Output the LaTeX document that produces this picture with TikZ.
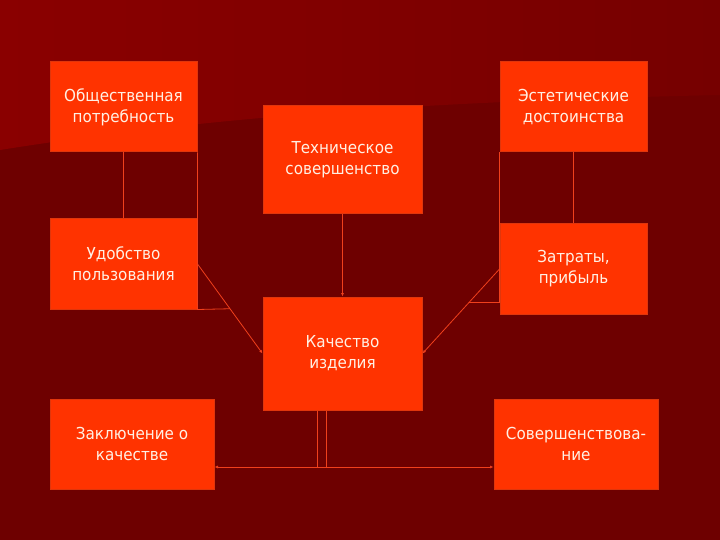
\documentclass[tikz,border=0pt]{standalone}
\usepackage{fontspec}
\setmainfont{DejaVu Sans}[FakeStretch=0.92]
\usetikzlibrary{arrows.meta,calc}
\definecolor{bgtopl}{HTML}{8A0000}
\definecolor{bgtopr}{HTML}{760000}
\definecolor{bglow}{HTML}{6E0000}
\definecolor{boxfill}{HTML}{FF3300}
\definecolor{boxline}{HTML}{E0360C}
\definecolor{conn}{HTML}{F0401C}
\definecolor{txt}{HTML}{FFF0E4}
\tikzset{
  box/.style={rectangle, fill=boxfill, draw=boxline, line width=1pt, text=txt,
    align=center, inner sep=2pt, font=\fontsize{16.5}{21}\selectfont},
  link/.style={draw=conn, line width=0.8pt},
  tip/.style={-{Latex[length=3.5pt,width=3pt]}}
}
\begin{document}
\begin{tikzpicture}[x=1pt,y=-1pt]
\useasboundingbox (0,0) rectangle (720,540);
\fill[bglow] (0,0) rectangle (720,540);
\shade[left color=bgtopl, right color=bgtopr] (0,0) -- (720,0) -- (720,95) .. controls (500,100) and (250,110) .. (0,150) -- cycle;
\node[box, minimum width=147, minimum height=90] (op) at (123.5,107) {Общественная\\потребность};
\node[box, minimum width=147, minimum height=90] (ed) at (573.5,107) {Эстетические\\достоинства};
\node[box, minimum width=159, minimum height=108] (ts) at (342.5,160) {Техническое\\совершенство};
\node[box, minimum width=147, minimum height=90] (up) at (123.5,264) {Удобство\\пользования};
\node[box, minimum width=147, minimum height=90] (zp) at (573.5,269) {Затраты,\\прибыль};
\node[box, minimum width=159, minimum height=113] (ki) at (342.5,353.5) {Качество\\изделия};
\node[box, minimum width=164, minimum height=90] (zk) at (132,444) {Заключение о\\качестве};
\node[box, minimum width=164, minimum height=90] (sv) at (576,444) {Совершенствова-\\ние};
\coordinate (lj) at ($(up.east)!0.5!(ki.west)$);
\coordinate (rj) at ($(zp.west)!0.4!(ki.east)$);
\coordinate (hb) at (0,467);
\coordinate (v1) at (317,0);
\coordinate (v2) at (326,0);
\draw[link] (op.south) -- (up.north);
\draw[link] (op.south east) -- (up.south east) -- (lj);
\draw[link, tip] (up.east) -- (ki.west);
\draw[link] (ed.south) -- (zp.north);
\draw[link] (ed.south west) -- (ed.south west |- rj) -- (rj);
\draw[link, tip] (zp.west) -- (ki.east);
\draw[link, tip] (ts.south) -- (ki.north);
\draw[link] (ki.south -| v1) -- (v1 |- hb);
\draw[link] (ki.south -| v2) -- (v2 |- hb);
\draw[link, {Latex[length=3.5pt,width=3pt]}-{Latex[length=3.5pt,width=3pt]}] (zk.east |- hb) -- (sv.west |- hb);
\end{tikzpicture}
\end{document}
